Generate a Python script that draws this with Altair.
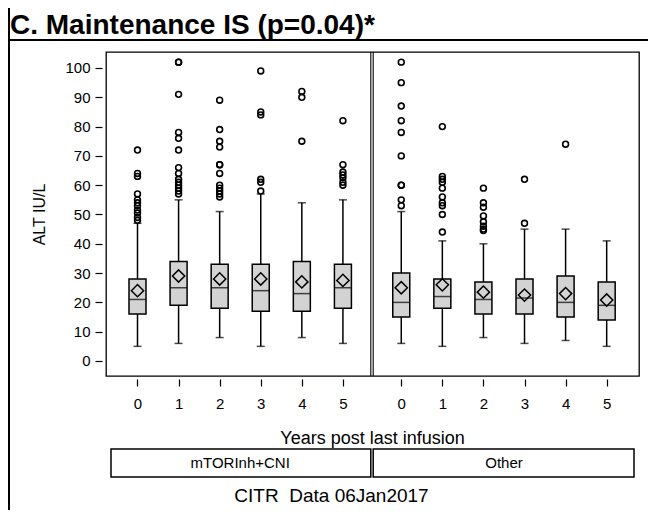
import altair as alt
import pandas as pd

# ---------------- data ----------------
TITLE = "C. Maintenance IS (p=0.04)*"
Y_TITLE = "ALT IU/L"
X_TITLE = "Years post last infusion"
FOOTNOTE = "CITR\u00a0 Data 06Jan2017"
GROUPS = ["mTORInh+CNI", "Other"]
YEARS = [0, 1, 2, 3, 4, 5]

# mTORInh+CNI
A_Q1 = [16, 19, 18, 17, 17, 18]
A_MED = [21, 25, 25, 24, 23, 25]
A_Q3 = [28, 34, 33, 33, 34, 33]
A_MEAN = [24, 29, 28, 28, 27, 27.5]
A_LO = [5, 6, 8, 5, 8, 6]
A_HI = [47, 55, 51, 57, 54, 55]
A_OUT = [
    [72, 64, 63, 57, 55, 54, 53, 51.5, 50.5, 49, 48],
    [102, 102, 91, 78, 76, 72, 66, 64, 62, 61, 60, 59, 58, 57],
    [89, 79, 75, 73, 67, 67, 64, 60, 59, 58, 57, 56],
    [99, 85, 84, 62, 61, 58],
    [92, 90, 75],
    [82, 67, 64.5, 63.5, 62.5, 61, 60],
]

# Other
B_Q1 = [15, 18, 16, 16, 15, 14]
B_MED = [20, 22, 21, 21.5, 20, 19]
B_Q3 = [30, 28, 27, 28, 29, 27]
B_MEAN = [25, 26, 23.5, 22.5, 23, 20.8]
B_LO = [6, 5, 8, 6, 7, 5]
B_HI = [51, 41, 40, 45, 45, 41]
B_OUT = [
    [102, 95, 87, 82, 78, 70, 60, 60, 55, 53],
    [80, 63, 62, 61, 59, 56, 54, 53, 50, 44],
    [59, 54, 52.5, 49.5, 47.5, 46, 45, 44.5],
    [62, 47],
    [74],
    [],
]

Y_TICKS = list(range(0, 101, 10))

# ---------------- layout constants ----------------
SHIFT = 6.42          # x offset of the second panel (in year units)
XMIN, XMAX = -0.645, 12.085
DIV_L, DIV_R = 5.679, 5.737
YMIN, YMAX = -5.12, 105.46
W, H = 533, 324
FONT = "Liberation Sans"

# ---------------- tables ----------------
rows, outs = [], []
for g, (q1, med, q3, mean, lo, hi, out) in enumerate([
    (A_Q1, A_MED, A_Q3, A_MEAN, A_LO, A_HI, A_OUT),
    (B_Q1, B_MED, B_Q3, B_MEAN, B_LO, B_HI, B_OUT),
]):
    for i, yr in enumerate(YEARS):
        pos = yr + SHIFT * g
        rows.append(dict(group=GROUPS[g], year=yr, pos=pos, q1=q1[i], med=med[i],
                         q3=q3[i], mean=mean[i], lo=lo[i], hi=hi[i]))
        for v in out[i]:
            outs.append(dict(group=GROUPS[g], year=yr, pos=pos, value=v))
summary = pd.DataFrame(rows)
outliers = pd.DataFrame(outs)
panels = pd.DataFrame({
    "group": GROUPS,
    "x0": [XMIN, DIV_R],
    "x1": [DIV_L, XMAX],
    "mid": [2.5, 2.5 + SHIFT],
})

x_values = [yr + SHIFT * g for g in range(2) for yr in YEARS]
x_axis = alt.Axis(
    values=x_values, title=None, domain=False, grid=False, offset=3,
    tickSize=7, tickColor="black", tickWidth=1.2, labelPadding=10,
    labelFontSize=15, labelFont=FONT, labelColor="black", labelFlush=False,
    labelOverlap=False,
    labelExpr=f"datum.value > 5.6 ? format(datum.value - {SHIFT}, 'd') : format(datum.value, 'd')",
)
y_axis = alt.Axis(
    values=Y_TICKS, title=Y_TITLE, domain=False, grid=False, offset=4,
    tickSize=7, tickColor="black", tickWidth=1.2, labelPadding=5,
    labelFontSize=15, labelFont=FONT, labelColor="black",
    titleFont=FONT, titleFontSize=16, titleFontWeight="normal",
    titleColor="black", titlePadding=17,
)
x_scale = alt.Scale(domain=[XMIN, XMAX], nice=False, zero=False)
y_scale = alt.Scale(domain=[YMIN, YMAX], nice=False, zero=False)


def X(field):
    return alt.X(f"{field}:Q", scale=x_scale, axis=x_axis)


def Y(field):
    return alt.Y(f"{field}:Q", scale=y_scale, axis=y_axis)


base = alt.Chart(summary)

whisk_hi = base.mark_rule(color="black", strokeWidth=1.5).encode(x=X("pos"), y=Y("q3"), y2="hi:Q")
whisk_lo = base.mark_rule(color="black", strokeWidth=1.5).encode(x=X("pos"), y=Y("lo"), y2="q1:Q")
cap_hi = base.mark_tick(orient="horizontal", size=8, thickness=1.5, color="black").encode(x=X("pos"), y=Y("hi"))
cap_lo = base.mark_tick(orient="horizontal", size=8, thickness=1.5, color="black").encode(x=X("pos"), y=Y("lo"))
box = base.mark_bar(size=17, fill="#d3d3d3", stroke="black", strokeWidth=1.5).encode(
    x=X("pos"), y=Y("q1"), y2="q3:Q")
median = base.mark_tick(orient="horizontal", size=17, thickness=1.5, color="black").encode(
    x=X("pos"), y=Y("med"))
mean = base.mark_point(shape="diamond", size=150, filled=False, stroke="black", strokeWidth=1.5,
                       opacity=1).encode(x=X("pos"), y=Y("mean"))
outl = alt.Chart(outliers).mark_point(shape="circle", size=34, filled=False, stroke="black",
                                      strokeWidth=1.6, opacity=1).encode(x=X("pos"), y=Y("value"))

divider = alt.Chart(panels.iloc[[0]]).mark_rule(color="black", strokeWidth=1.1).encode(
    x=X("x1"), y=alt.value(0), y2=alt.value(H))
divider2 = alt.Chart(panels.iloc[[1]]).mark_rule(color="black", strokeWidth=1.1).encode(
    x=X("x0"), y=alt.value(0), y2=alt.value(H))

label_box = alt.Chart(panels).mark_rect(fill="white", stroke="black", strokeWidth=1.5, clip=False).encode(
    x=X("x0"), x2="x1:Q", y=alt.value(397), y2=alt.value(425))
label_txt = alt.Chart(panels).mark_text(font=FONT, fontSize=15, color="black", baseline="middle",
                                        clip=False).encode(
    x=X("mid"), y=alt.value(411), text="group:N")

one = pd.DataFrame({"t": [TITLE], "xt": [X_TITLE], "fn": [FOOTNOTE]})
title_txt = alt.Chart(one).mark_text(font=FONT, fontSize=28, fontWeight="bold",
                                     align="left", baseline="alphabetic", color="black").encode(
    x=alt.value(-96), y=alt.value(-18), text="t:N")
xtitle_txt = alt.Chart(one).mark_text(font=FONT, fontSize=18, align="center", baseline="middle",
                                      color="black").encode(
    x=alt.value(W / 2), y=alt.value(387), text="xt:N")
foot_txt = alt.Chart(one).mark_text(font=FONT, fontSize=19, align="center", baseline="middle",
                                    color="black").encode(
    x=alt.value(225.5), y=alt.value(444), text="fn:N")
hline = alt.Chart(one).mark_rule(color="black", strokeWidth=2.2).encode(
    x=alt.value(-98), x2=alt.value(542), y=alt.value(-12))
vline = alt.Chart(one).mark_rule(color="black", strokeWidth=2).encode(
    x=alt.value(-97), y=alt.value(-44), y2=alt.value(458))

chart = alt.layer(
    whisk_hi, whisk_lo, cap_hi, cap_lo, box, median, mean, outl,
    divider, divider2, label_box, label_txt, title_txt, xtitle_txt, foot_txt, hline, vline,
).properties(
    width=W, height=H,
    autosize=alt.AutoSizeParams(type="none"),
    padding={"left": 98, "top": 44, "right": 9, "bottom": 134},
    background="white",
).configure_view(stroke="black", strokeWidth=1.3)

chart.save("out.html", embed_options={"renderer": "svg", "actions": False})
